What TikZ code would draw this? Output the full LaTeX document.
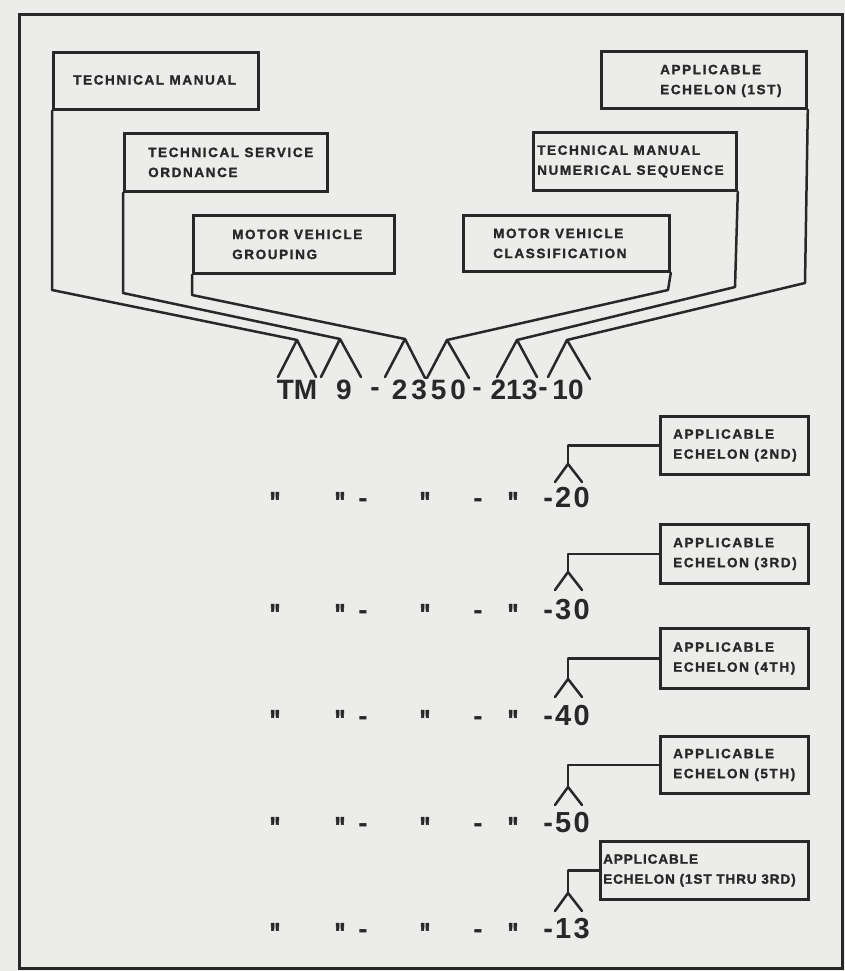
\documentclass[tikz,border=0pt]{standalone}
\usepackage{fontspec}
\newfontfamily\lblfont[LetterSpace=12, UprightFont={* Bold}, FakeBold=1.5]{Liberation Sans}
\newfontfamily\numfont[UprightFont={* Bold}]{Liberation Sans}
\newfontfamily\numwide[LetterSpace=14, UprightFont={* Bold}]{Liberation Sans}
\newfontfamily\rowfont[LetterSpace=8, UprightFont={* Bold}]{Liberation Sans}
\newfontfamily\dittofont[FakeStretch=0.75, FakeBold=2, UprightFont={* Bold}]{Liberation Sans}
\definecolor{ink}{RGB}{40,40,40}
\definecolor{paper}{RGB}{236,236,234}
\tikzset{
  box/.style={draw=ink, line width=2.8pt, inner sep=0pt, anchor=north west},
  lbl/.style={anchor=west, inner sep=0pt, align=left, text=ink,
    font=\lblfont\fontsize{13.5}{20}\selectfont},
  conn/.style={draw=ink, line width=2.5pt, line cap=round, line join=round},
  big/.style={anchor=base, inner sep=0pt, text=ink, font=\numfont\fontsize{28}{30}\selectfont},
  bigwide/.style={big, font=\numwide\fontsize{28}{30}\selectfont},
  rownum/.style={anchor=base east, inner sep=0pt, text=ink, font=\rowfont\fontsize{29}{30}\selectfont},
  ditto/.style={anchor=north, inner sep=0pt, text=ink, font=\dittofont\fontsize{30}{30}\selectfont},
  dashmark/.style={anchor=base, inner sep=0pt, text=ink, font=\numfont\fontsize{28}{30}\selectfont},
}
\begin{document}
\begin{tikzpicture}[x=1pt,y=-1pt]
\fill[paper] (0,0) rectangle (845,971);
\useasboundingbox (0,0) rectangle (845,971);
% outer frame
\draw[ink, line width=3pt] (19,15) rectangle (842,968);

% top boxes
\node[box, minimum width=205pt, minimum height=57pt] (tm)   at (52,51)  {};
\node[box, minimum width=203pt, minimum height=58pt] (tso)  at (123,132) {};
\node[box, minimum width=201pt, minimum height=58pt] (mvg)  at (192,214) {};
\node[box, minimum width=206pt, minimum height=56pt] (mvc)  at (462,214) {};
\node[box, minimum width=203pt, minimum height=58pt] (tmns) at (532,131) {};
\node[box, minimum width=205pt, minimum height=57pt] (ae1)  at (600,50)  {};

\node[lbl] (tmT)   at ([xshift=21pt,yshift=1pt]tm.west)   {TECHNICAL MANUAL};
\node[lbl] (tsoT)  at ([xshift=25pt]tso.west)  {TECHNICAL SERVICE\\ORDNANCE};
\node[lbl] (mvgT)  at ([xshift=40pt]mvg.west)  {MOTOR VEHICLE\\GROUPING};
\node[lbl] (mvcT)  at ([xshift=31pt]mvc.west)  {MOTOR VEHICLE\\CLASSIFICATION};
\node[lbl] (tmnsT) at ([xshift=5pt]tmns.west)  {TECHNICAL MANUAL\\NUMERICAL SEQUENCE};
\node[lbl] (ae1T)  at ([xshift=60pt,yshift=-1pt]ae1.west) {APPLICABLE\\ECHELON (1ST)};

% carets over the number
\coordinate (pk1) at (297,340); \coordinate (f1a) at (278,377); \coordinate (f1b) at (316,377);
\coordinate (pk2) at (340,339); \coordinate (f2a) at (321,377); \coordinate (f2b) at (361,377);
\coordinate (pk3) at (405,339); \coordinate (f3a) at (385,377); \coordinate (f3b) at (425,378);
\coordinate (pk4) at (447,340); \coordinate (f4a) at (427,378); \coordinate (f4b) at (469,378);
\coordinate (pk5) at (517,340); \coordinate (f5a) at (497,377); \coordinate (f5b) at (537,377);
\coordinate (pk6) at (567,340); \coordinate (f6a) at (548,377); \coordinate (f6b) at (590,379);

\coordinate (b1) at (52,290);
\coordinate (b2) at (123,293);
\coordinate (b3) at (192,295);
\coordinate (b4) at (668,290);
\coordinate (b5) at (735,287);
\coordinate (b6) at (805,283);

\draw[conn] (tm.south west) -- (b1) -- (pk1);
\draw[conn] (tso.south west) -- (b2) -- (pk2);
\draw[conn] (mvg.south west) -- (b3) -- (pk3);
\draw[conn] (mvc.south east) -- (b4) -- (pk4);
\draw[conn] (tmns.south east) -- (b5) -- (pk5);
\draw[conn] (ae1.south east) -- (b6) -- (pk6);
\foreach \i in {1,...,6} { \draw[conn] (f\i a) -- (pk\i) -- (f\i b); }

% the number
\node[big] (nTM) at (297,399) {TM};
\node[big] (n9) at (344,399) {9};
\node[dashmark] (d1) at (375,396) {-};
\node[bigwide] (n2350) at (429,399) {2350};
\node[dashmark] (d2) at (477,396) {-};
\node[big] (n213) at (514,399) {213};
\node[dashmark] (d3) at (543,396) {-};
\node[big] (n10) at (568,399) {10};

% lower echelon boxes
\node[box, minimum width=148pt, minimum height=58pt] (ae2) at (659,415) {};
\node[box, minimum width=148pt, minimum height=59pt] (ae3) at (659,523) {};
\node[box, minimum width=148pt, minimum height=60pt] (ae4) at (659,627) {};
\node[box, minimum width=148pt, minimum height=57pt] (ae5) at (659,735) {};
\node[box, minimum width=208pt, minimum height=58pt] (ae6) at (599,840) {};

\node[lbl] (ae2T) at ([xshift=14pt]ae2.west) {APPLICABLE\\ECHELON (2ND)};
\node[lbl] (ae3T) at ([xshift=14pt]ae3.west) {APPLICABLE\\ECHELON (3RD)};
\node[lbl] (ae4T) at ([xshift=14pt]ae4.west) {APPLICABLE\\ECHELON (4TH)};
\node[lbl] (ae5T) at ([xshift=14pt]ae5.west) {APPLICABLE\\ECHELON (5TH)};
\node[lbl, font=\lblfont\addfontfeatures{LetterSpace=7}\fontsize{13.5}{20}\selectfont] (ae6T) at ([xshift=4pt]ae6.west) {APPLICABLE\\ECHELON (1ST THRU 3RD)};

% row carets
\foreach \k/\pk/\bs/\lab in {2/464/507/-20, 3/572/619/-30, 4/679/725/-40, 5/787/832/-50, 6/893/938/-13} {
  \coordinate (q\k) at (568,\pk);
  \coordinate (qa\k) at (555,\pk+18);
  \coordinate (qb\k) at (582,\pk+18);
  \draw[conn] (ae\k.west) -| (q\k);
  \draw[conn] (qa\k) -- (q\k) -- (qb\k);
  \node[rownum] (r\k) at (590,\bs) {\lab};
  \node[ditto] (da\k) at (275,\bs-15) {"};
  \node[ditto] (db\k) at (340,\bs-15) {"};
  \node[dashmark] (dc\k) at (363,\bs) {-};
  \node[ditto] (dd\k) at (425,\bs-15) {"};
  \node[dashmark] (de\k) at (478,\bs) {-};
  \node[ditto] (df\k) at (513,\bs-15) {"};
}
\end{tikzpicture}
\end{document}
